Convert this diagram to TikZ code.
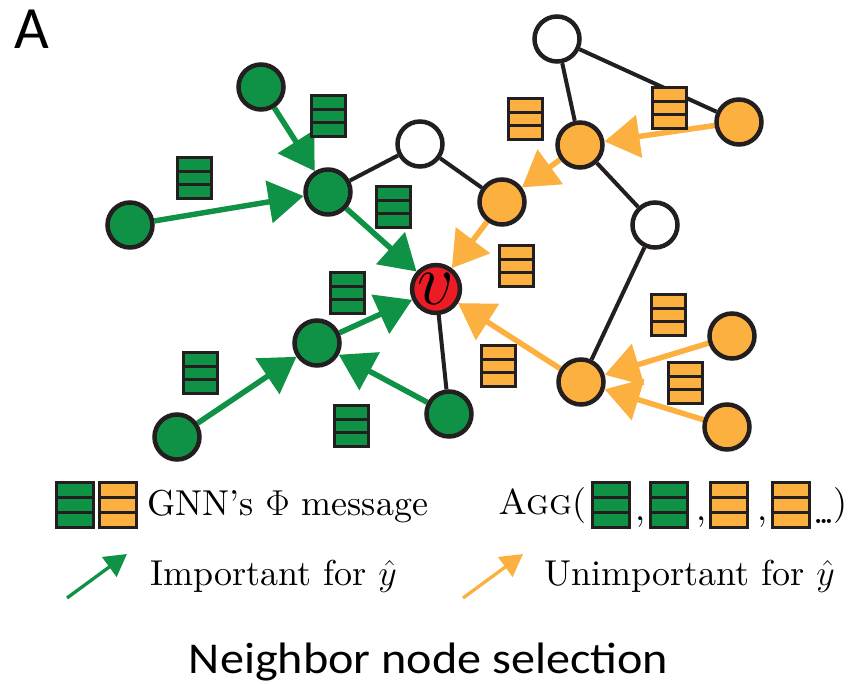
\RequirePackage{fix-cm}
\documentclass[tikz,border=0pt]{standalone}
\usepackage{fontspec}
\setmainfont{lmroman10-regular.otf}[ItalicFont=lmroman10-italic.otf, BoldFont=lmroman10-bold.otf, SmallCapsFont=lmromancaps10-regular.otf]
\newfontfamily\carlito{Carlito}
\usetikzlibrary{arrows.meta,backgrounds,calc}
\definecolor{ggreen}{HTML}{0F9245}
\definecolor{gorange}{HTML}{FBB040}
\definecolor{gred}{HTML}{ED1C24}
\definecolor{gblack}{HTML}{231F20}
\begin{document}
\begin{tikzpicture}[x=1pt,y=-1pt,
  gnode/.style={circle, draw=gblack, line width=4.5pt, minimum size=45pt, inner sep=0pt},
  gn/.style={gnode, fill=ggreen},
  on/.style={gnode, fill=gorange},
  wn/.style={gnode, fill=white},
  vn/.style={gnode, fill=gred},
  edgeline/.style={draw=gblack, line width=4pt},
  garrow/.style={draw=ggreen, line width=5.5pt, -{Triangle[length=35pt,width=42pt]}},
  oarrow/.style={draw=gorange, line width=5.5pt, -{Triangle[length=35pt,width=42pt]}},
  garrowsmall/.style={draw=ggreen, line width=3.3pt, -{Triangle[length=22pt,width=24pt]}},
  oarrowsmall/.style={draw=gorange, line width=3.3pt, -{Triangle[length=22pt,width=24pt]}},
  msgbase/.style={rectangle, draw=gblack, line width=3pt, inner sep=0pt,
    path picture={\draw[gblack, line width=3pt]
      ($(path picture bounding box.north west)!1/3!(path picture bounding box.south west)$) --
      ($(path picture bounding box.north east)!1/3!(path picture bounding box.south east)$)
      ($(path picture bounding box.north west)!2/3!(path picture bounding box.south west)$) --
      ($(path picture bounding box.north east)!2/3!(path picture bounding box.south east)$);}},
  msg/.style={msgbase, minimum width=34pt, minimum height=41pt},
  lbox/.style={msgbase, minimum width=37pt, minimum height=45pt},
  txt/.style={anchor=base west, inner sep=0pt, font=\fontsize{36}{40}\selectfont},
]
\useasboundingbox (0,0) rectangle (859,684);

% label
\node[anchor=base west, inner sep=0pt] (lab) at (14,49) {\carlito\fontsize{60}{62}\selectfont A};

% nodes
\node[gn] (g1) at (261,87) {};
\node[gn] (g2) at (328,192) {};
\node[gn] (g3) at (130,225) {};
\node[gn] (g4) at (317,343) {};
\node[gn] (g5) at (177,437) {};
\node[gn] (g6) at (449,414) {};
\node[wn] (w1) at (420,144) {};
\node[wn] (w2) at (557,39) {};
\node[wn] (w3) at (655,225) {};
\node[on] (o1) at (502,202) {};
\node[on] (o2) at (580,145) {};
\node[on] (o3) at (739,122) {};
\node[on] (o4) at (581,382) {};
\node[on] (o5) at (732,336) {};
\node[on] (o6) at (727,427) {};
\node[vn] (v) at (436,289) {\fontsize{72}{72}\selectfont$v$};

\begin{scope}[on background layer]
  \draw[edgeline] (g2) -- (w1);
  \draw[edgeline] (w1) -- (o1);
  \draw[edgeline] (w2) -- (o2);
  \draw[edgeline] (w2) -- (o3);
  \draw[edgeline] (o2) -- (w3);
  \draw[edgeline] (w3) -- (o4);
  \draw[edgeline] (v) -- (g6);
  \draw[garrow] (g1) -- (g2);
  \draw[garrow] (g3) -- (g2);
  \draw[garrow] (g2) -- (v);
  \draw[garrow] (g4) -- (v);
  \draw[garrow] (g5) -- (g4);
  \draw[garrow] (g6) -- (g4);
  \draw[oarrow] (o3) -- (o2);
  \draw[oarrow] (o2) -- (o1);
  \draw[oarrow] (o1) -- (v);
  \draw[oarrow] (o4) -- (v);
  \draw[oarrow] (o5) -- (o4);
  \draw[oarrow] (o6) -- (o4);
\end{scope}

% messages
\node[msg, fill=ggreen] (m1) at (328,116) {};
\node[msg, fill=ggreen] (m2) at (194,178) {};
\node[msg, fill=ggreen] (m3) at (393,207) {};
\node[msg, fill=ggreen] (m4) at (347,293) {};
\node[msg, fill=ggreen] (m5) at (200,373) {};
\node[msg, fill=ggreen] (m6) at (351,426) {};
\node[msg, fill=gorange] (m7) at (525,119) {};
\node[msg, fill=gorange] (m8) at (669,108) {};
\node[msg, fill=gorange] (m9) at (516,266) {};
\node[msg, fill=gorange] (m10) at (498,366) {};
\node[msg, fill=gorange] (m11) at (668,315) {};
\node[msg, fill=gorange] (m12) at (685,383) {};

% legend
\node[lbox, fill=ggreen] (lg) at (75,504.5) {};
\node[lbox, fill=gorange] (lo) at (118,504.5) {};
\node[txt] (t1) at (147,515) {GNN's $\Phi$ message};
\node[txt] (t2) at (498,514) {\textsc{Agg}(};
\node[lbox, fill=ggreen] (a1) at (611,504.5) {};
\node[txt] (c1) at (635,520) {,};
\node[lbox, fill=ggreen] (a2) at (669,504.5) {};
\node[txt] (c2) at (696,520) {,};
\node[lbox, fill=gorange] (a3) at (728.5,504.5) {};
\node[txt] (c3) at (757,520) {,};
\node[lbox, fill=gorange] (a4) at (791,504.5) {};
\node[anchor=base west, inner sep=0pt] (dots) at (814,523) {\fontsize{26}{28}\selectfont\bfseries .\kern-3pt.\kern-3pt.};
\node[txt] (t3) at (833,514) {)};

\coordinate (la1) at (67,598);
\coordinate (la2) at (127,554);
\draw[garrowsmall] (la1) -- (la2);
\node[txt] (t4) at (150,585) {Important for $\hat{y}$};
\coordinate (lb1) at (463,598);
\coordinate (lb2) at (523,554);
\draw[oarrowsmall] (lb1) -- (lb2);
\node[txt] (t5) at (544,585) {Unimportant for $\hat{y}$};

\node[anchor=base, inner sep=0pt] (cap) at (428.5,673) {\carlito\fontsize{44}{48}\selectfont\scalebox{1.095}[1]{Neighbor node selection}};
\end{tikzpicture}
\end{document}
